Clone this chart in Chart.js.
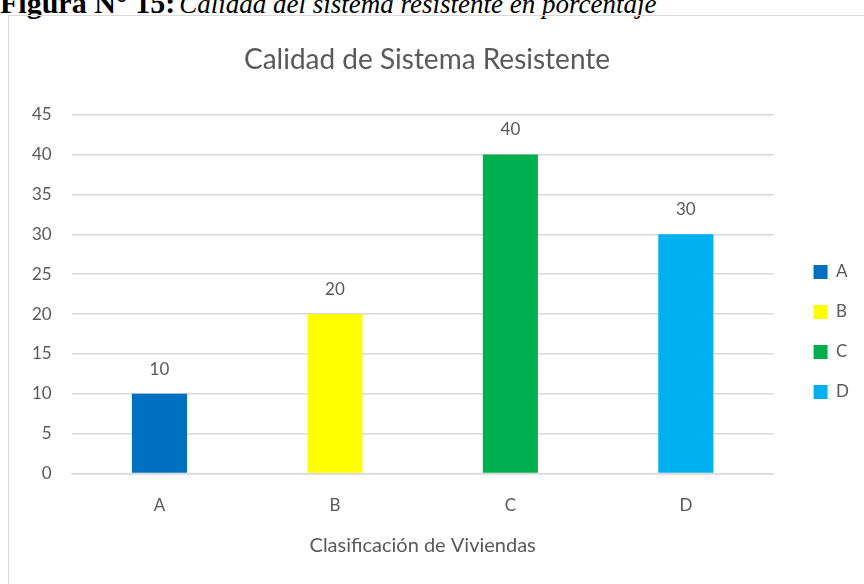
<!DOCTYPE html>
<html>
<head>
<meta charset="utf-8">
<script src="https://cdn.jsdelivr.net/npm/chart.js@4.4.1/dist/chart.umd.min.js"></script>
<style>
  html, body { margin: 0; padding: 0; background: #fff; overflow: hidden; }
  #caption {
    position: absolute; left: 0; top: -11px; white-space: nowrap;
    font-family: "Liberation Serif", "Times New Roman", serif; line-height: 27px; color: #000;
  }
  #caption b { font-size: 30px; }
  #caption i { font-size: 27px; }
  #frame {
    position: absolute; left: 8px; top: 15px; width: 900px; height: 600px;
    border: 1.5px solid #d9d9d9; box-sizing: border-box;
  }
  #wrap { position: absolute; left: 0; top: 0; width: 864px; height: 584px; }
</style>
</head>
<body>
<div id="caption"><b>Figura N° 15:</b> <i>Calidad del sistema resistente en porcentaje</i></div>
<div id="frame"></div>
<div id="wrap"><canvas id="chart"></canvas></div>
<script>
const categories = ['A', 'B', 'C', 'D'];
const values = [10, 20, 40, 30];
const barColors = ['#0070C0', '#FFFF00', '#00B050', '#00B0F0'];
const yTicks = [0, 5, 10, 15, 20, 25, 30, 35, 40, 45];

const fontFamily = 'Lato, "Open Sans", sans-serif';
const textColor = '#595959';

// valores encima de cada barra
const valueLabels = {
    id: 'valueLabels',
    afterDatasetsDraw(chart) {
        const ctx = chart.ctx;
        const meta = chart.getDatasetMeta(0);
        ctx.save();
        ctx.font = '17px ' + fontFamily;
        ctx.fillStyle = textColor;
        ctx.textAlign = 'center';
        ctx.textBaseline = 'bottom';
        meta.data.forEach((bar, i) => {
            ctx.fillText(values[i], bar.x, bar.y - 16);
        });
        ctx.restore();
    }
};

// la leyenda de Excel queda centrada en todo el marco, no en el área del gráfico
const moveLegend = {
    id: 'moveLegend',
    afterLayout(chart) {
        const lg = chart.legend;
        lg.top += 51; lg.bottom += 51;
        lg.left += 17; lg.right += 17;
    }
};

new Chart(document.getElementById('chart'), {
    type: 'bar',
    data: {
        labels: categories,
        datasets: [{
            data: values,
            backgroundColor: barColors,
            categoryPercentage: 1,
            barPercentage: 0.314
        }]
    },
    options: {
        responsive: true,
        maintainAspectRatio: false,
        animation: false,
        layout: { padding: { left: 12, right: 22, top: 0, bottom: 22 } },
        plugins: {
            title: {
                display: true,
                text: 'Calidad de Sistema Resistente',
                color: textColor,
                font: { family: fontFamily, size: 28, weight: 'normal' },
                padding: { top: 43, bottom: 38 }
            },
            legend: {
                position: 'right',
                labels: {
                    color: textColor,
                    font: { family: fontFamily, size: 17 },
                    boxWidth: 14,
                    boxHeight: 14,
                    padding: 23,
                    generateLabels(chart) {
                        return categories.map((c, i) => ({
                            text: c,
                            fillStyle: barColors[i],
                            strokeStyle: barColors[i],
                            lineWidth: 0,
                            fontColor: textColor,
                            index: i
                        }));
                    }
                }
            },
            tooltip: { enabled: false }
        },
        scales: {
            x: {
                grid: { display: false },
                border: { color: '#d9d9d9', width: 1.5 },
                ticks: { color: textColor, font: { family: fontFamily, size: 17 }, padding: 14 },
                title: {
                    display: true,
                    text: 'Clasificación de Viviendas',
                    color: textColor,
                    font: { family: fontFamily, size: 20 },
                    padding: { top: 4 }
                }
            },
            y: {
                min: 0,
                max: 45,
                afterBuildTicks(axis) { axis.ticks = yTicks.map(v => ({ value: v })); },
                grid: { color: '#d9d9d9', lineWidth: 1.5, drawTicks: false },
                border: { display: false },
                ticks: { color: textColor, font: { family: fontFamily, size: 17 }, padding: 20 }
            }
        }
    },
    plugins: [valueLabels, moveLegend]
});
</script>
</body>
</html>
